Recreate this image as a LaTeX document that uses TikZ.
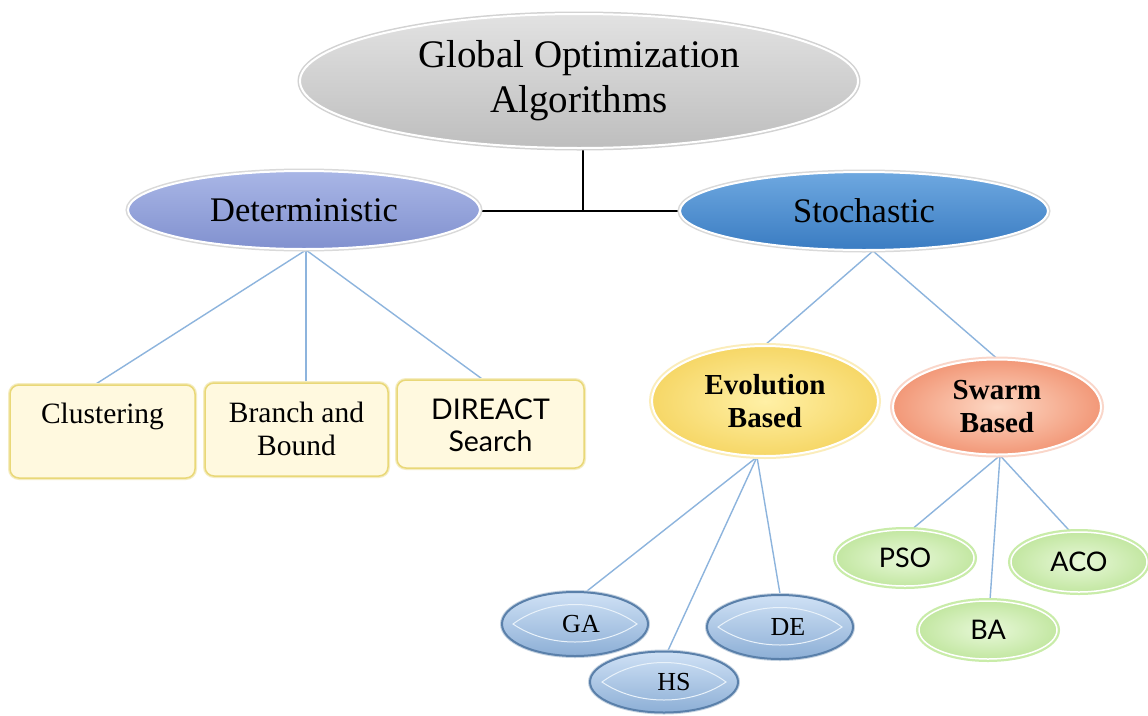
\documentclass[tikz,border=0pt]{standalone}
\usepackage{fontspec}
\setmainfont{Liberation Serif}
\newfontfamily\gillish{Lato}
\usetikzlibrary{shapes.geometric,backgrounds}

\definecolor{rootTop}{HTML}{E2E2E2}
\definecolor{rootBot}{HTML}{BEBEBE}
\definecolor{detTop}{HTML}{A9B6E6}
\definecolor{detBot}{HTML}{8191CF}
\definecolor{stoTop}{HTML}{6EA8E0}
\definecolor{stoBot}{HTML}{3A7CC2}
\definecolor{evoIn}{HTML}{FFF0A6}
\definecolor{evoOut}{HTML}{F6D767}
\definecolor{swIn}{HTML}{FDD8C4}
\definecolor{swOut}{HTML}{F29878}
\definecolor{boxFill}{HTML}{FFF9DF}
\definecolor{boxEdge}{HTML}{E9D878}
\definecolor{smTop}{HTML}{CFE1F5}
\definecolor{smBot}{HTML}{8DAFD6}
\definecolor{smEdge}{HTML}{5A80AA}
\definecolor{grIn}{HTML}{E8F8D9}
\definecolor{grOut}{HTML}{C3E7A2}
\definecolor{grGlow}{HTML}{C9ECA9}
\definecolor{treeLine}{HTML}{8DB4DD}

\tikzset{
  base/.style={ellipse, inner sep=0pt, align=center},
  rootnode/.style={base, top color=rootTop, bottom color=rootBot,
    draw=white, line width=2pt, preaction={draw=gray!35, line width=5pt},
    font=\fontsize{39}{45}\selectfont},
  catnode/.style={base, draw=white, line width=2pt,
    preaction={draw=gray!30, line width=5pt},
    font=\fontsize{34.5}{38}\selectfont},
  subnode/.style={base, font=\bfseries\fontsize{29}{33}\selectfont,
    draw=white, line width=2pt},
  boxnode/.style={rectangle, rounded corners=9pt, fill=boxFill, draw=boxEdge,
    line width=1.5pt, preaction={draw=boxEdge!45, line width=4pt}, inner sep=0pt},
  boxtext/.style={anchor=north, align=center, inner sep=0pt,
    font=\fontsize{29.5}{33}\selectfont},
  bluenode/.style={base, top color=smTop, bottom color=smBot, draw=smEdge,
    line width=2pt, preaction={draw=smEdge!35, line width=4pt},
    font=\fontsize{26}{30}\selectfont},
  lens/.style={draw=white!55!smTop, line width=1pt},
  greennode/.style={base, inner color=grIn, outer color=grOut, draw=white,
    line width=1.5pt, preaction={draw=grGlow, line width=6pt},
    font=\gillish\fontsize{27}{30}\selectfont},
  trunk/.style={draw=black, line width=2.6pt},
  branch/.style={draw=treeLine, line width=1.4pt},
}

\begin{document}
\begin{tikzpicture}[x=1pt, y=-1pt]
  \useasboundingbox (0,0) rectangle (1148,715);

  % top level
  \node[rootnode, minimum width=558pt, minimum height=134pt] (root) at (579,81)
    {\raisebox{-3pt}{Global Optimization}\\\raisebox{-3pt}{Algorithms}};

  % two families
  \node[catnode, minimum width=352pt, minimum height=78pt,
        top color=detTop, bottom color=detBot] (det) at (304,210) {Deterministic};
  \node[catnode, minimum width=368pt, minimum height=78pt,
        top color=stoTop, bottom color=stoBot] (sto) at (864,211) {Stochastic};

  % deterministic methods
  \node[boxnode, minimum width=185pt, minimum height=93pt] (clus) at (102.5,431.5) {};
  \node[boxtext] (clusT) at ([yshift=-19pt]clus.north) {Clustering};
  \node[boxnode, minimum width=183pt, minimum height=93pt] (bb) at (296.5,429.5) {};
  \node[boxtext] (bbT) at ([yshift=-20pt]bb.north) {Branch and\\Bound};
  \node[boxnode, minimum width=187pt, minimum height=88pt] (dir) at (490.5,424) {};
  \node[boxtext, font=\gillish\fontsize{28.5}{32}\selectfont] (dirT)
    at ([yshift=-19pt]dir.north) {DIREACT\\Search};

  % stochastic sub-families
  \node[subnode, minimum width=226pt, minimum height=110pt,
        inner color=evoIn, outer color=evoOut,
        preaction={draw=evoOut!45, line width=6pt}] (evo) at (765,401)
    {Evolution\\Based};
  \node[subnode, minimum width=208pt, minimum height=95pt,
        inner color=swIn, outer color=swOut,
        preaction={draw=swOut!40, line width=6pt}] (swarm) at (997,407)
    {Swarm\\Based};

  % evolution-based methods
  \node[bluenode, minimum width=146pt, minimum height=64pt] (ga) at (575,624) {};
  \node[bluenode, minimum width=146pt, minimum height=64pt] (de) at (780,627) {};
  \node[bluenode, minimum width=148pt, minimum height=61pt] (hs) at (664,682) {};
  \foreach \n in {ga,de,hs}{
    \draw[lens] ([xshift=-62pt]\n.center)
      .. controls +(35,-26) and +(-35,-26) .. ([xshift=62pt]\n.center)
      .. controls +(-35,24) and +(35,24) .. cycle;
  }
  \node[font=\fontsize{26}{30}\selectfont] (gaT) at ([xshift=6pt]ga.center) {GA};
  \node[font=\fontsize{26}{30}\selectfont] (deT) at ([xshift=8pt]de.center) {DE};
  \node[font=\fontsize{26}{30}\selectfont] (hsT) at ([xshift=10pt]hs.center) {HS};

  % swarm-based methods
  \node[greennode, minimum width=138pt, minimum height=56pt] (pso) at (905,558) {PSO};
  \node[greennode, minimum width=136pt, minimum height=60pt] (aco) at (1079,562) {ACO};
  \node[greennode, minimum width=138pt, minimum height=58pt] (ba) at (988,630) {BA};

  % white sheet and connectors behind the nodes
  \begin{scope}[on background layer]
    \fill[white] (0,0) rectangle (1148,715);

    \coordinate (joint) at (583,211);
    \draw[trunk] (root.south -| joint) -- (joint);
    \draw[trunk] (det.east |- joint) -- (sto.west);

    \draw[branch] ([xshift=2pt]det.south) -- ([xshift=-7pt]clus.north);
    \draw[branch] ([xshift=2pt]det.south) -- ([xshift=2pt]det.south |- bb.north);
    \draw[branch] ([xshift=2pt]det.south) -- ([xshift=-8pt]dir.north);

    \draw[branch] ([xshift=9pt]sto.south) -- (evo.north);
    \draw[branch] ([xshift=9pt]sto.south) -- (swarm.north);

    \draw[branch] ([xshift=-8pt]evo.south) -- ([xshift=12pt]ga.north);
    \draw[branch] ([xshift=-8pt]evo.south) -- ([xshift=4pt]hs.north);
    \draw[branch] ([xshift=-8pt]evo.south) -- (de.north);

    \draw[branch] ([xshift=3pt]swarm.south) -- ([xshift=7pt]pso.north);
    \draw[branch] ([xshift=3pt]swarm.south) -- ([xshift=2pt]ba.north);
    \draw[branch] ([xshift=3pt]swarm.south) -- ([xshift=-9pt]aco.north);
  \end{scope}
\end{tikzpicture}
\end{document}
